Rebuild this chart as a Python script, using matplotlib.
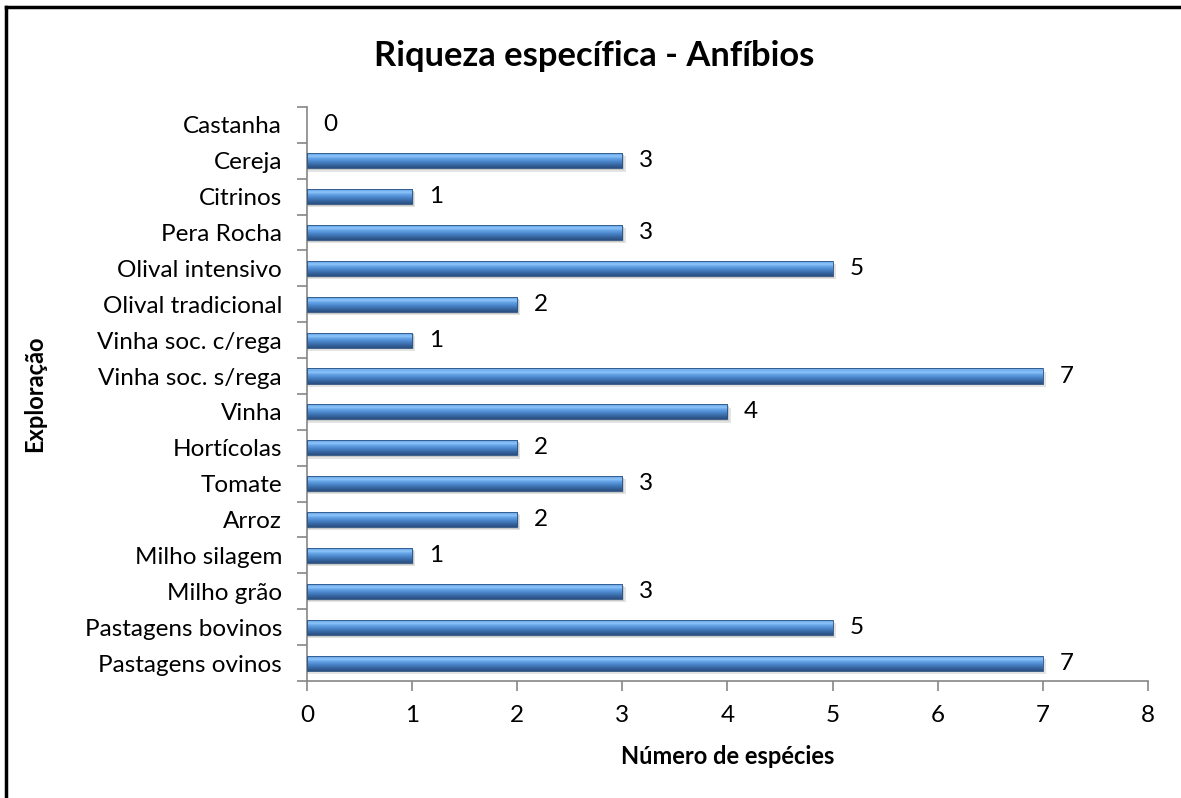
import numpy as np
import matplotlib
matplotlib.use('Agg')
import matplotlib.pyplot as plt
from matplotlib.colors import LinearSegmentedColormap
from matplotlib.patches import Rectangle

# data, bottom to top
categories = ['Pastagens ovinos', 'Pastagens bovinos', 'Milho grão', 'Milho silagem',
              'Arroz', 'Tomate', 'Hortícolas', 'Vinha', 'Vinha soc. s/rega',
              'Vinha soc. c/rega', 'Olival tradicional', 'Olival intensivo',
              'Pera Rocha', 'Citrinos', 'Cereja', 'Castanha']
species = [7, 5, 3, 1, 2, 3, 2, 4, 7, 1, 2, 5, 3, 1, 3, 0]
x_ticks = [0, 1, 2, 3, 4, 5, 6, 7, 8]

plt.rcParams['font.family'] = ['Lato', 'DejaVu Sans']

fig = plt.figure(figsize=(11.81, 7.98), dpi=100)
ax = fig.add_axes([0.26, 0.1466, 0.712, 0.7194])

# bar gradient (bottom -> top)
grad = LinearSegmentedColormap.from_list('bar', [
    (0.00, '#2a5080'), (0.15, '#34619a'), (0.40, '#4a84c8'),
    (0.60, '#64a2e6'), (0.75, '#8fc6fa'), (0.88, '#68a8ec'),
    (0.95, '#8cc0f4'), (1.00, '#5290d2')])
g = np.linspace(0, 1, 64).reshape(-1, 1)

h = 0.42
ypos = np.arange(len(categories))
for y, v in zip(ypos, species):
    if v <= 0:
        continue
    # soft shadow
    ax.add_patch(Rectangle((0, y - h / 2 - 0.09), v + 0.03, h, color='#e3e3e3',
                           lw=0, zorder=1))
    ax.add_patch(Rectangle((0, y - h / 2 - 0.05), v + 0.015, h, color='#c8c8c8',
                           lw=0, zorder=1.5))
    rect = Rectangle((0, y - h / 2), v, h, facecolor='none', edgecolor='#2a5080',
                     lw=0.6, zorder=3)
    ax.add_patch(rect)
    im = ax.imshow(g, cmap=grad, aspect='auto', origin='lower',
                   extent=[0, v, y - h / 2, y + h / 2], zorder=2)
    im.set_clip_path(rect)

for y, v in zip(ypos, species):
    ax.annotate(str(v), (v, y), xytext=(12, 0), textcoords='offset points',
                ha='left', va='center', fontsize=17.5)

ax.set_xlim(0, 8)
ax.set_ylim(-0.5, len(categories) - 0.5)
ax.set_xticks(x_ticks)
ax.set_yticks(ypos)
ax.set_yticklabels(categories)
ax.set_yticks(np.arange(-0.5, len(categories), 1), minor=True)
ax.tick_params(axis='y', which='major', length=0, pad=18, labelsize=17.5)
ax.tick_params(axis='y', which='minor', length=7, color='#868686', width=1.2)
ax.tick_params(axis='x', length=7, color='#868686', width=1.2, pad=10, labelsize=17.5)

for s in ['top', 'right']:
    ax.spines[s].set_visible(False)
for s in ['left', 'bottom']:
    ax.spines[s].set_color('#868686')
    ax.spines[s].set_linewidth(1.2)

ax.set_xlabel('Número de espécies', fontsize=17, fontweight='bold', labelpad=14)
ax.set_ylabel('Exploração', fontsize=17, fontweight='bold')
ax.yaxis.set_label_coords(-0.31, 0.5)
fig.text(0.503, 0.930, 'Riqueza específica - Anfíbios', ha='center', va='center',
         fontsize=24.8, fontweight='bold')

# chart frame (cropped at right/bottom)
fig.add_artist(plt.Line2D([0.0055, 0.0055], [0, 0.991], color='black', lw=2.5,
                          transform=fig.transFigure))
fig.add_artist(plt.Line2D([0.0055, 1], [0.991, 0.991], color='black', lw=2.5,
                          transform=fig.transFigure))

fig.savefig('out.png', dpi=100)
